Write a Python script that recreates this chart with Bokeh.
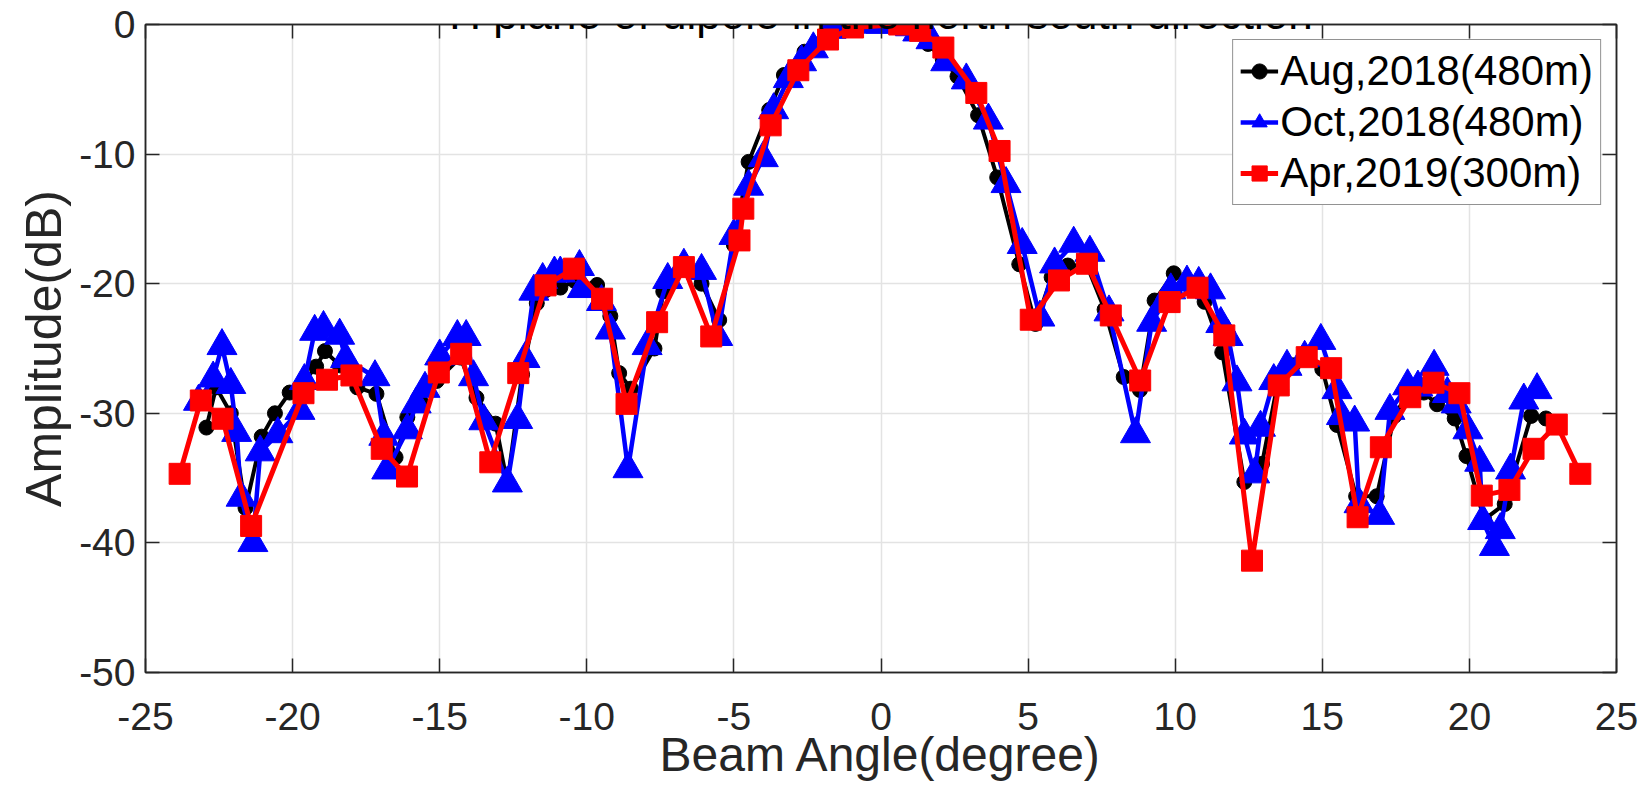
from bokeh.plotting import figure
from bokeh.models import Range1d, LinearAxis, Label, FixedTicker, Legend, CustomJSTickFormatter
from bokeh.embed import file_html
from bokeh.resources import INLINE

# ---- data ----
title_text = "H plane of dipole in the north-south direction"
x_label = "Beam Angle(degree)"
y_label = "Amplitude(dB)"
series_names = ["Aug,2018(480m)", "Oct,2018(480m)", "Apr,2019(300m)"]

aug_x = [-22.93, -22.6, -22.1, -21.6, -21.05, -20.6, -20.1, -19.6, -19.2, -18.9, -18.4, -17.8,
         -17.15, -16.5, -16.1, -15.65, -15.1, -14.3, -13.75, -13.1, -12.7, -12.2, -11.7, -11.4,
         -10.9, -10.4, -9.65, -9.2, -8.9, -8.5, -7.7, -7.4, -6.7, -6.1, -5.5, -5.0, -4.5, -3.8,
         -3.3, -2.6, -1.7, -1.0, -0.5, 0.0, 0.5, 1.0, 1.6, 2.1, 2.6, 3.3, 3.95, 4.7, 5.25, 5.8,
         6.35, 7.0, 7.6, 8.25, 8.8, 9.3, 9.95, 10.5, 11.0, 11.6, 12.35, 12.95, 13.5, 14.0, 14.5,
         15.0, 15.5, 16.15, 16.85, 17.45, 17.9, 18.45, 18.9, 19.5, 19.9, 20.5, 21.2, 22.1, 22.6]
aug_y = [-31.1, -28.0, -30.0, -37.3, -31.8, -30.0, -28.4, -27.5, -26.4, -25.2, -26.3, -28.0,
         -28.5, -33.4, -30.3, -29.1, -27.5, -25.7, -28.8, -30.8, -35.4, -27.0, -21.5, -20.5,
         -20.3, -19.8, -20.1, -22.5, -26.9, -28.1, -25.0, -20.6, -18.8, -20.0, -22.8, -17.0,
         -10.6, -6.6, -3.9, -2.1, -0.6, -0.2, 0.0, 0.0, 0.0, -0.3, -1.5, -2.7, -4.0, -7.0,
         -11.8, -18.5, -23.1, -19.5, -18.6, -18.6, -22.0, -27.2, -28.2, -21.3, -19.2, -20.0,
         -21.4, -25.3, -35.3, -33.9, -27.5, -26.3, -25.8, -26.6, -30.9, -36.4, -36.4, -30.2,
         -28.5, -28.4, -29.3, -30.4, -33.3, -38.2, -37.0, -30.2, -30.4]

oct_x = [-23.2, -22.7, -22.4, -22.1, -21.9, -21.75, -21.35, -21.1, -20.5, -19.75, -19.6, -19.25,
         -18.95, -18.4, -18.2, -17.2, -16.9, -16.8, -16.1, -15.8, -15.5, -15.0, -14.4, -14.1,
         -13.85, -13.5, -12.7, -12.35, -12.1, -11.8, -11.5, -11.1, -10.9, -10.25, -10.15, -9.5,
         -9.2, -8.6, -7.95, -7.25, -6.7, -6.1, -5.55, -5.0, -4.5, -4.0, -3.65, -3.15, -2.7, -2.3,
         -1.7, -1.2, -0.5, 0.0, 0.5, 1.0, 1.25, 1.7, 2.2, 2.9, 3.65, 4.25, 4.8, 5.4, 5.9, 6.55,
         7.1, 7.75, 8.65, 9.2, 9.6, 9.85, 10.4, 10.8, 11.2, 11.55, 11.8, 12.1, 12.35, 12.7,
         12.9, 13.35, 13.8, 14.4, 14.95, 15.5, 15.65, 16.1, 16.25, 16.95, 17.3, 17.9, 18.25,
         18.8, 19.25, 19.55, 19.95, 20.35, 20.45, 20.85, 21.05, 21.4, 21.85, 22.3]
oct_y = [-29.1, -27.3, -24.8, -27.8, -31.5, -36.5, -40.0, -33.0, -31.6, -29.8, -27.5, -23.7,
         -23.4, -24.0, -25.8, -27.2, -31.8, -34.4, -31.3, -29.3, -28.1, -25.6, -24.1, -24.1,
         -27.2, -30.6, -35.4, -30.5, -25.8, -20.6, -19.7, -19.2, -19.2, -18.7, -20.4, -21.4,
         -23.6, -34.3, -24.8, -19.7, -18.6, -19.0, -24.1, -16.3, -12.5, -10.3, -6.6, -4.2,
         -2.9, -1.9, -0.4, 0.0, 0.0, 0.0, 0.0, -0.2, -0.6, -1.2, -2.9, -4.3, -7.4, -12.3,
         -17.0, -22.6, -18.5, -16.9, -17.6, -22.2, -31.6, -23.0, -21.5, -20.5, -19.9, -20.0,
         -20.5, -23.1, -24.1, -27.6, -31.7, -34.7, -31.1, -27.5, -26.4, -25.7, -24.4, -28.2,
         -30.2, -30.7, -37.0, -37.9, -29.8, -27.9, -28.0, -26.4, -28.5, -29.3, -31.3, -33.8,
         -38.3, -40.3, -39.0, -34.4, -29.0, -28.2]

apr_x = [-23.84, -23.12, -22.38, -21.41, -19.63, -18.83, -18.00, -16.97, -16.11, -15.03, -14.27,
         -13.28, -12.33, -11.40, -10.44, -9.48, -8.65, -7.61, -6.70, -5.77, -4.81, -4.68, -3.75,
         -2.81, -1.80, -0.95, 0.62, 1.33, 2.12, 3.24, 4.03, 5.09, 6.05, 7.00, 7.81, 8.81, 9.81,
         10.76, 11.67, 12.61, 13.52, 14.47, 15.30, 16.20, 16.99, 17.99, 18.78, 19.66, 20.42,
         21.36, 22.18, 22.97, 23.77]
apr_y = [-34.67, -29.01, -30.42, -38.69, -28.45, -27.41, -27.08, -32.74, -34.88, -26.85, -25.41,
         -33.78, -26.90, -20.13, -18.84, -21.16, -29.27, -22.97, -18.72, -24.07, -16.66, -14.21,
         -7.78, -3.53, -1.16, -0.23, 0.0, -0.49, -1.78, -5.28, -9.76, -22.78, -19.75, -18.46,
         -22.45, -27.47, -21.42, -20.31, -23.99, -41.37, -27.85, -25.67, -26.52, -38.02, -32.62,
         -28.76, -27.64, -28.45, -36.35, -35.91, -32.74, -30.87, -34.67]

x_ticks = [-25, -20, -15, -10, -5, 0, 5, 10, 15, 20, 25]
y_ticks = [-50, -40, -30, -20, -10, 0]

FONT = "Liberation Sans"
AX = "#262626"

p = figure(width=1646, height=791, output_backend="svg", toolbar_location=None,
           x_range=Range1d(-25, 25), y_range=Range1d(-50, 0),
           min_border_left=145, min_border_right=30, min_border_top=24, min_border_bottom=119)
p.title = None
p.background_fill_color = "white"
p.border_fill_color = "white"
p.outline_line_color = AX
p.outline_line_width = 1.5

for ax in (p.xaxis[0], p.yaxis[0]):
    ax.major_label_text_font = FONT
    ax.major_label_text_font_size = "39px"
    ax.major_label_text_color = AX
    ax.axis_label_text_font = FONT
    ax.axis_label_text_font_style = "normal"
    ax.axis_label_text_color = AX
    ax.axis_line_color = AX
    ax.axis_line_width = 1.5
    ax.major_tick_line_color = AX
    ax.major_tick_line_width = 1.5
    ax.major_tick_in = 14
    ax.major_tick_out = 0
    ax.minor_tick_line_color = None

p.xaxis[0].ticker = FixedTicker(ticks=x_ticks)
p.yaxis[0].ticker = FixedTicker(ticks=y_ticks)
p.xaxis[0].major_label_overrides = {t: str(t) for t in x_ticks}
p.yaxis[0].major_label_overrides = {t: str(t) for t in y_ticks}
p.xaxis[0].axis_label = x_label
p.yaxis[0].axis_label = y_label
p.xaxis[0].axis_label_text_font_size = "48px"
p.yaxis[0].axis_label_text_font_size = "50px"
p.xaxis[0].major_label_standoff = 30
p.xaxis[0].axis_label_standoff = -5
p.yaxis[0].major_label_standoff = 10
p.yaxis[0].axis_label_standoff = 4

blank = CustomJSTickFormatter(code="return '';")
top_ax = LinearAxis(ticker=FixedTicker(ticks=x_ticks), formatter=blank,
                    axis_line_color=AX, axis_line_width=1.5, major_tick_line_color=AX,
                    major_tick_line_width=1.5, major_tick_in=14, major_tick_out=0,
                    minor_tick_line_color=None, major_label_standoff=0)
right_ax = LinearAxis(ticker=FixedTicker(ticks=y_ticks), formatter=blank,
                      axis_line_color=AX, axis_line_width=1.5, major_tick_line_color=AX,
                      major_tick_line_width=1.5, major_tick_in=14, major_tick_out=0,
                      minor_tick_line_color=None, major_label_standoff=0)
p.add_layout(top_ax, "above")
p.add_layout(right_ax, "right")

p.xgrid.ticker = FixedTicker(ticks=x_ticks)
p.ygrid.ticker = FixedTicker(ticks=y_ticks)
p.xgrid.grid_line_color = "#e3e3e3"
p.ygrid.grid_line_color = "#e3e3e3"
p.xgrid.grid_line_width = 1.5
p.ygrid.grid_line_width = 1.5

title = Label(x=0, y=0.85, text=title_text, text_align="center",
              text_baseline="alphabetic", text_font=FONT, text_font_size="44px",
              text_color="black")
p.add_layout(title)

l1 = p.line(aug_x, aug_y, line_color="black", line_width=4)
s1 = p.scatter(aug_x, aug_y, marker="circle", size=15, fill_color="black", line_color="black")
l2 = p.line(oct_x, oct_y, line_color="#0000ff", line_width=4.5)
s2 = p.scatter(oct_x, oct_y, marker="triangle", size=30, fill_color="#0000ff", line_color="#0000ff")
l3 = p.line(apr_x, apr_y, line_color="#ff0000", line_width=5)
s3 = p.scatter(apr_x, apr_y, marker="square", size=21, fill_color="#ff0000", line_color="#ff0000")

legend = Legend(items=[(series_names[0], [l1, s1]), (series_names[1], [l2, s2]),
                       (series_names[2], [l3, s3])],
                location="top_right")
legend.label_text_font = FONT
legend.label_text_font_size = "42px"
legend.label_text_color = "black"
legend.border_line_color = AX
legend.border_line_width = 1.5
legend.background_fill_color = "white"
legend.background_fill_alpha = 1.0
legend.glyph_width = 38
legend.glyph_height = 40
legend.label_height = 40
legend.label_standoff = 2
legend.spacing = 3
legend.padding = 7
legend.margin = 15
p.add_layout(legend, "center")

open("out.html", "w").write(file_html(p, INLINE))
